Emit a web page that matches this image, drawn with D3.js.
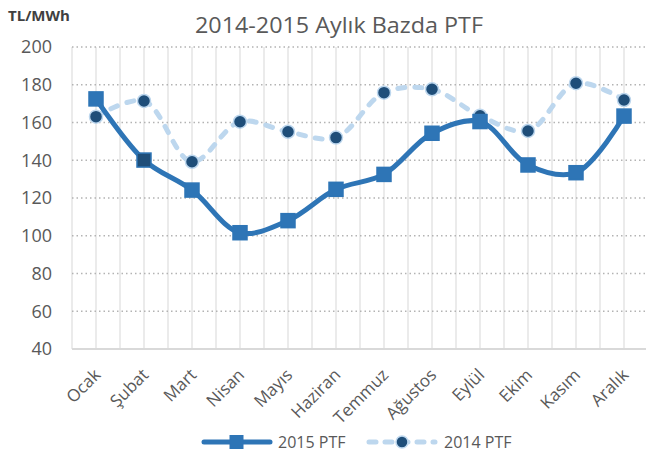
<!DOCTYPE html>
<html>
<head>
<meta charset="utf-8">
<script src="https://cdn.jsdelivr.net/npm/d3@7"></script>
<style>
  body { margin: 0; background: #fff; }
  text { font-family: "Open Sans", "Liberation Sans", sans-serif; }
</style>
</head>
<body>
<svg width="646" height="454"></svg>
<script>
var months = ["Ocak", "Şubat", "Mart", "Nisan", "Mayıs", "Haziran", "Temmuz", "Ağustos", "Eylül", "Ekim", "Kasım", "Aralık"];
var ptf2015 = [172.5, 140.1, 124.2, 101.6, 108.0, 124.6, 132.5, 154.3, 160.5, 137.5, 133.4, 163.4];
var ptf2014 = [163.1, 171.4, 139.2, 160.4, 155.1, 152.0, 175.8, 177.6, 163.6, 155.5, 180.8, 171.9];
var yTicks = [40, 60, 80, 100, 120, 140, 160, 180, 200];

var svg = d3.select("svg");

var x = d3.scalePoint().domain(months).range([72, 648]).padding(0.5);
var y = d3.scaleLinear().domain([40, 200]).range([349, 47]);
var step = x.step();

// vertical grid, at each month and between months
var vLines = [];
months.forEach(function(m) { vLines.push(x(m) - step / 2); vLines.push(x(m)); });
vLines.push(x(months[months.length - 1]) + step / 2);

svg.append("g")
    .selectAll("line")
    .data(vLines)
    .enter()
    .append("line")
    .attr("x1", function(d) { return d; })
    .attr("x2", function(d) { return d; })
    .attr("y1", y(200))
    .attr("y2", y(40))
    .style("stroke", "#ebebeb")
    .style("stroke-width", "2px");

// horizontal dotted grid
svg.append("g")
    .selectAll("line")
    .data(yTicks.filter(function(d) { return d > 40; }))
    .enter()
    .append("line")
    .attr("x1", 72)
    .attr("x2", 648)
    .attr("y1", function(d) { return y(d); })
    .attr("y2", function(d) { return y(d); })
    .style("stroke", "#b3b3b3")
    .style("stroke-width", "1.5px")
    .style("stroke-dasharray", "1.5,3");

svg.append("line")
    .attr("x1", 72).attr("x2", 648)
    .attr("y1", y(40)).attr("y2", y(40))
    .style("stroke", "#d9d9d9")
    .style("stroke-width", "2px");

// y axis labels
var yAxis = d3.axisLeft(y).tickValues(yTicks).tickSize(0).tickPadding(0);
var yG = svg.append("g").attr("transform", "translate(52,0)").call(yAxis);
yG.select(".domain").remove();
yG.selectAll("text")
    .style("font-size", "18px")
    .style("fill", "#595959")
    .style("font-family", "'Open Sans', sans-serif");

// x axis labels, rotated
var xAxis = d3.axisBottom(x).tickSize(0).tickPadding(0);
var xG = svg.append("g").attr("transform", "translate(0,376)").call(xAxis);
xG.select(".domain").remove();
xG.selectAll("text")
    .style("font-size", "17px")
    .style("fill", "#595959")
    .style("font-family", "'Open Sans', sans-serif")
    .style("text-anchor", "end")
    .attr("y", 0)
    .attr("dy", "0")
    .attr("transform", "translate(5,0) rotate(-45)");

// lines
var line = d3.line()
    .x(function(d, i) { return x(months[i]); })
    .y(function(d) { return y(d); })
    .curve(d3.curveCatmullRom.alpha(0.5));

svg.append("path")
    .datum(ptf2014)
    .attr("d", line)
    .style("fill", "none")
    .style("stroke", "#bdd7ee")
    .style("stroke-width", "5px")
    .style("stroke-linecap", "round")
    .style("stroke-dasharray", "7,10");

svg.append("path")
    .datum(ptf2015)
    .attr("d", line)
    .style("fill", "none")
    .style("stroke", "#2e75b6")
    .style("stroke-width", "5px");

svg.append("g")
    .selectAll("circle")
    .data(ptf2014)
    .enter()
    .append("circle")
    .attr("cx", function(d, i) { return x(months[i]); })
    .attr("cy", function(d) { return y(d); })
    .attr("r", 6.5)
    .style("fill", "#1f4e79")
    .style("stroke", "#bdd7ee")
    .style("stroke-width", "1.5px");

svg.append("g")
    .selectAll("rect")
    .data(ptf2015)
    .enter()
    .append("rect")
    .attr("x", function(d, i) { return x(months[i]) - 7; })
    .attr("y", function(d) { return y(d) - 7; })
    .attr("width", 14)
    .attr("height", 14)
    .style("fill", function(d, i) { return i === 1 ? "#1f4e79" : "#2e75b6"; })
    .style("stroke", "#2e75b6")
    .style("stroke-width", "1.5px");

// title
svg.append("text")
    .attr("x", 339)
    .attr("y", 33)
    .attr("textLength", 288)
    .attr("lengthAdjust", "spacingAndGlyphs")
    .style("text-anchor", "middle")
    .style("font-size", "22px")
    .style("fill", "#595959")
    .text("2014-2015 Aylık Bazda PTF");

svg.append("text")
    .attr("x", 8)
    .attr("y", 21)
    .style("font-size", "15px")
    .style("font-weight", "bold")
    .style("fill", "#404040")
    .text("TL/MWh");

// legend
var legend = svg.append("g").attr("transform", "translate(0,442)");
legend.append("line")
    .attr("x1", 204).attr("x2", 270).attr("y1", 0).attr("y2", 0)
    .style("stroke", "#2e75b6").style("stroke-width", "5px")
    .style("stroke-linecap", "round");
legend.append("rect")
    .attr("x", 230).attr("y", -6.5).attr("width", 13).attr("height", 13)
    .style("fill", "#2e75b6").style("stroke", "#2e75b6");
legend.append("text")
    .attr("x", 278).attr("y", 6)
    .style("font-size", "16px").style("fill", "#595959")
    .text("2015 PTF");
legend.append("line")
    .attr("x1", 369).attr("x2", 435).attr("y1", 0).attr("y2", 0)
    .style("stroke", "#bdd7ee").style("stroke-width", "5px")
    .style("stroke-linecap", "round")
    .style("stroke-dasharray", "7,9");
legend.append("circle")
    .attr("cx", 402).attr("cy", 0).attr("r", 6)
    .style("fill", "#1f4e79").style("stroke", "#bdd7ee").style("stroke-width", "1.5px");
legend.append("text")
    .attr("x", 444).attr("y", 6)
    .style("font-size", "16px").style("fill", "#595959")
    .text("2014 PTF");
</script>
</body>
</html>
